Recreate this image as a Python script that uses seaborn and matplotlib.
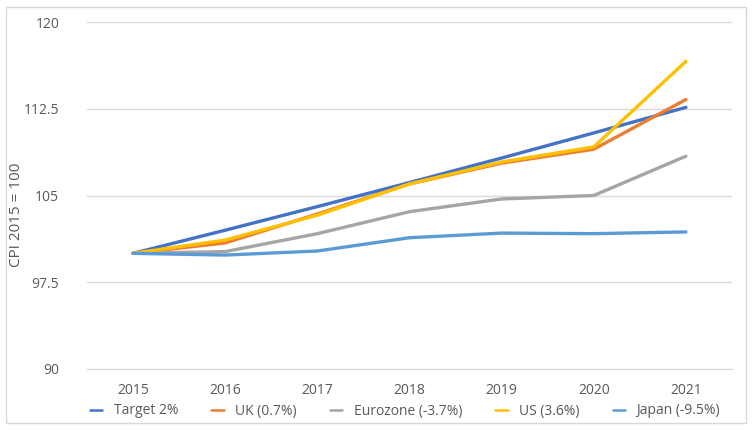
import matplotlib
matplotlib.use("Agg")
import matplotlib.pyplot as plt
import pandas as pd
import seaborn as sns
from matplotlib.patches import Rectangle

# CPI index values (2015 = 100)
years = [2015, 2016, 2017, 2018, 2019, 2020, 2021]
target = [100.0, 102.0, 104.04, 106.12, 108.24, 110.41, 112.62]
uk = [100.0, 100.9, 103.4, 106.0, 107.8, 109.0, 113.3]
eurozone = [100.0, 100.15, 101.7, 103.6, 104.7, 105.0, 108.4]
us = [100.0, 101.15, 103.3, 106.0, 107.9, 109.2, 116.6]
japan = [100.0, 99.85, 100.2, 101.35, 101.75, 101.7, 101.85]

series_names = ["Target 2%", "UK (0.7%)", "Eurozone (-3.7%)", "US (3.6%)", "Japan (-9.5%)"]
series_values = [target, uk, eurozone, us, japan]
colors = ["#4472C4", "#ED7D31", "#A5A5A5", "#FFC000", "#5B9BD5"]
yticks = [90, 97.5, 105, 112.5, 120]
ytick_labels = ["90", "97.5", "105", "112.5", "120"]

rows = []
for name, vals in zip(series_names, series_values):
    for yr, v in zip(years, vals):
        rows.append({"Year": yr, "CPI": v, "Series": name})
df = pd.DataFrame(rows)

sns.set_style("white")
plt.rcParams["font.family"] = ["Open Sans", "DejaVu Sans"]

fig = plt.figure(figsize=(7.54, 4.30), dpi=100)
ax = fig.add_axes([87 / 754, 1 - 369 / 430, (732 - 87) / 754, (369 - 22) / 430])

sns.lineplot(data=df, x="Year", y="CPI", hue="Series", hue_order=series_names,
             palette=colors, linewidth=2.4, ax=ax, legend=True)

ax.set_xlim(2014.5, 2021.5)
ax.set_ylim(90, 120)
ax.set_yticks(yticks)
ax.set_yticklabels(ytick_labels)
ax.set_xticks(years)
ax.set_xticklabels([str(y) for y in years])
ax.yaxis.grid(True, color="#D9D9D9", linewidth=1)
ax.set_axisbelow(True)
for s in ["top", "right", "left"]:
    ax.spines[s].set_visible(False)
ax.spines["bottom"].set_color("#D9D9D9")
ax.tick_params(axis="both", length=0, labelsize=10, colors="#595959", pad=10)
ax.tick_params(axis="y", pad=20)
ax.set_xlabel("")
ax.set_ylabel("CPI 2015 = 100", fontsize=11, color="#595959")
ax.yaxis.set_label_coords(24 / 754, 0.5, transform=fig.transFigure)

handles, labels = ax.get_legend_handles_labels()
for h in handles:
    h.set_linewidth(1.8)
ax.legend(handles, labels, loc="center", bbox_to_anchor=(405 / 754, (430 - 411) / 430),
          bbox_transform=fig.transFigure, ncol=5, frameon=False, fontsize=10,
          handlelength=0.9, columnspacing=2.4, handletextpad=0.8,
          labelcolor="#595959")

fig.patches.append(Rectangle((6 / 754, 1 - 423 / 430), 740 / 754, 416 / 430,
                             transform=fig.transFigure, fill=False,
                             edgecolor="#D9D9D9", linewidth=1))

fig.savefig("out.png", dpi=100)
